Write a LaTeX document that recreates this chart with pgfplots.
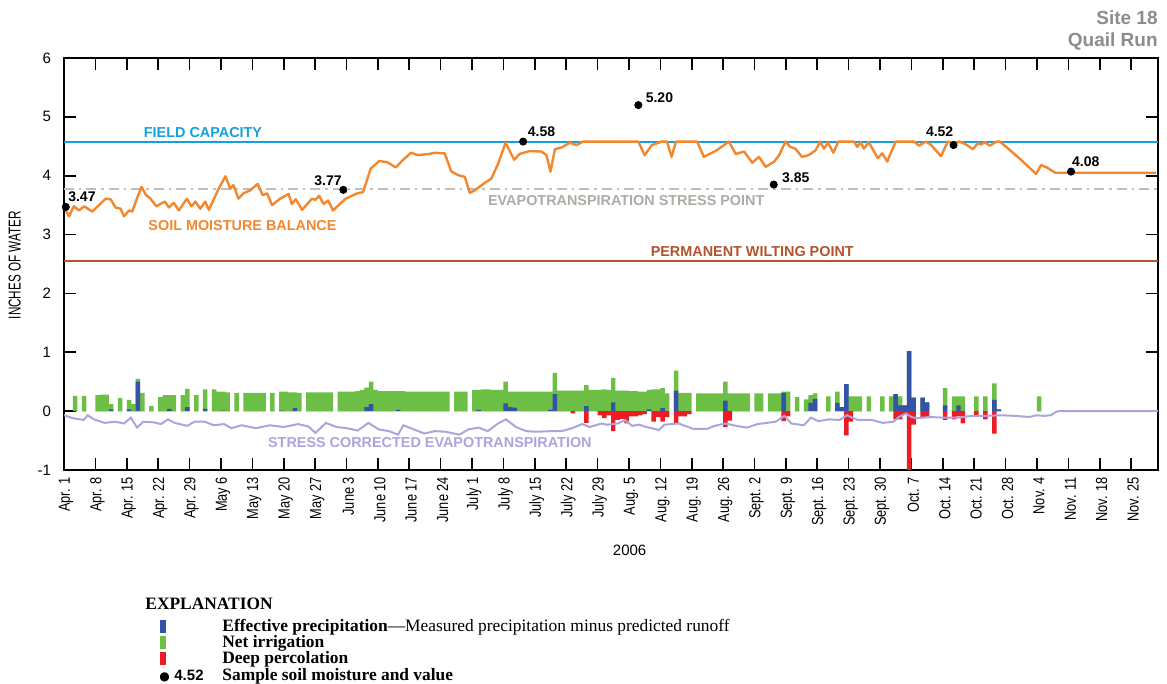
\documentclass[border=0pt]{standalone}
\usepackage{pgfplots}
\pgfplotsset{compat=1.18}
\usepackage{pgfplotstable}
\usepackage{fontspec}
\setmainfont{Liberation Sans}
\newfontfamily\condfont[FakeStretch=0.8]{Liberation Sans}
\newfontfamily\ylabfont[FakeStretch=0.68]{Liberation Sans}
\newfontfamily\seriffont{Liberation Serif}
\newfontfamily\symfont{DejaVu Sans}
\definecolor{fc}{RGB}{20,160,220}
\definecolor{sm}{RGB}{242,135,45}
\definecolor{etsp}{RGB}{195,190,185}
\definecolor{etsptxt}{RGB}{175,170,165}
\definecolor{pwp}{RGB}{180,82,45}
\definecolor{gbar}{RGB}{108,190,69}
\definecolor{bbar}{RGB}{52,82,166}
\definecolor{rbar}{RGB}{237,28,36}
\definecolor{etl}{RGB}{170,165,220}
\definecolor{ttl}{RGB}{140,140,140}

\pgfplotstableread{
d top blue red
2 0.26 0 0
4 0.26 0 0
7 0.27 0 0
8 0.28 0 0
9 0.28 0 0
10 0.12 0.03 0
12 0.22 0 0
14 0.19 0.03 0
15 0.12 0 0
16 0.55 0.50 0
17 0.31 0 0
19 0.09 0 0
21 0.24 0 0
22 0.27 0 0
23 0.27 0.04 0
24 0.27 0 0
26 0.27 0 0
27 0.38 0.07 0
29 0.27 0 0
31 0.37 0.04 0
33 0.37 0 0
34 0.33 0 0
35 0.33 0.01 0
36 0.32 0 0
38 0.31 0 0
40 0.31 0 0
41 0.31 0 0
42 0.31 0 0
43 0.31 0 0
44 0.31 0 0
46 0.31 0 0
48 0.33 0.01 0
49 0.33 0 0
50 0.32 0 0
51 0.32 0.05 0
52 0.31 0 0
54 0.32 0 0
55 0.32 0 0
56 0.32 0 0
57 0.32 0 0
58 0.32 0 0
59 0.32 0 0
61 0.33 0 0
62 0.33 0 0
63 0.33 0 0
64 0.33 0 0
65 0.34 0 0
66 0.36 0 0
67 0.40 0.07 0
68 0.50 0.12 0
69 0.36 0 0
70 0.34 0 0
71 0.34 0 0
72 0.34 0 0
73 0.34 0 0
74 0.34 0.02 0
75 0.34 0 0
76 0.33 0 0
77 0.33 0 0
78 0.33 0 0
79 0.33 0 0
80 0.33 0 0
81 0.33 0 0
82 0.33 0 0
83 0.33 0 0
84 0.33 0 0
85 0.33 0 0
87 0.33 0 0
88 0.33 0 0
89 0.33 0 0
91 0.36 0 0
92 0.36 0.02 0
93 0.37 0 0
94 0.37 0 0
95 0.36 0 0
96 0.36 0 0
97 0.36 0 0
98 0.50 0.13 0
99 0.33 0.07 0
100 0.33 0.06 0
101 0.33 0 0
102 0.33 0 0
103 0.33 0 0
104 0.33 0 0
105 0.33 0 0
106 0.33 0 0
107 0.33 0 0
108 0.33 0.02 0
109 0.65 0.29 0
110 0.35 0 0
111 0.35 0 0
112 0.35 0 0
113 0.35 0 -0.04
114 0.35 0 0
115 0.35 0 0
116 0.44 0.085 -0.20
117 0.36 0 0
118 0.36 0 0
119 0.36 0 -0.07
120 0.37 0 -0.12
121 0.36 0 -0.07
122 0.56 0.15 -0.34
123 0.35 0 -0.15
124 0.35 0 -0.13
125 0.35 0 -0.21
126 0.34 0 -0.09
127 0.34 0 -0.09
128 0.33 0 -0.07
129 0.33 0 -0.05
130 0.36 0.03 0
131 0.37 0 -0.18
132 0.37 0 -0.10
133 0.39 0.05 -0.18
134 0.30 0 -0.10
136 0.69 0.35 -0.21
137 0.31 0 -0.09
138 0.31 0 -0.09
139 0.31 0 -0.05
141 0.30 0 0
142 0.30 0 0
143 0.30 0 0
144 0.30 0 0
145 0.30 0 0
146 0.30 0 0
147 0.50 0.18 -0.27
148 0.30 0 -0.16
149 0.30 0 0
150 0.30 0 0
151 0.30 0 0
152 0.30 0 0
154 0.30 0 0
155 0.30 0 0
157 0.30 0 0
158 0.30 0 0
159 0.30 0 0
160 0.33 0.31 -0.17
161 0.33 0 -0.09
163 0.24 0 0
165 0.20 0 0
166 0.27 0.14 0
167 0.30 0.21 0
170 0.25 0 0
172 0.33 0.14 0
173 0.07 0.07 0
174 0.46 0.46 -0.41
175 0.25 0 -0.18
176 0.25 0 0
177 0.25 0 0
179 0.25 0 0
182 0.25 0 0
184 0.25 0 0
185 0.29 0.29 -0.14
186 0.25 0.10 -0.14
187 0.10 0.10 -0.05
188 1.02 1.02 -1.10
189 0.23 0.23 -0.23
191 0.23 0.23 -0.12
192 0.15 0.15 -0.12
196 0.39 0.10 -0.15
198 0.25 0 -0.14
199 0.25 0.10 -0.09
200 0.25 0 -0.21
203 0.25 0 -0.08
205 0.25 0 -0.14
207 0.47 0.19 -0.38
208 0.03 0.03 0
217 0.25 0 0
}\bars

\begin{document}
\begin{tikzpicture}
\path[use as bounding box] (0,0) rectangle (583.5pt,342pt);
\begin{axis}[
  at={(32pt,107pt)}, anchor=south west,
  scale only axis, width=547pt, height=206pt,
  xmin=0, xmax=244, ymin=-1, ymax=6,
  xtick={0,7,...,238},
  xticklabels={Apr. 1,Apr. 8,Apr. 15,Apr. 22,Apr. 29,May 6,May 13,May 20,May 27,June 3,June 10,June 17,June 24,July 1,July 8,July 15,July 22,July 29,Aug. 5,Aug. 12,Aug. 19,Aug. 26,Sept. 2,Sept. 9,Sept. 16,Sept. 23,Sept. 30,Oct. 7,Oct. 14,Oct. 21,Oct. 28,Nov. 4,Nov. 11,Nov. 18,Nov. 25},
  ytick={-1,0,1,2,3,4,5,6},
  yticklabels={-1,0,1,2,3,4,5,6},
  tick align=inside, major tick length=6pt,
  axis line style={line width=0.9pt},
  every tick/.style={black, line width=0.8pt},
  xticklabel style={rotate=90, anchor=east, font=\condfont\fontsize{8}{9}\selectfont, yshift=-1pt},
  yticklabel style={font=\fontsize{7.5}{8}\selectfont, xshift=-3pt},
  ylabel={INCHES OF WATER},
  ylabel style={at={(axis description cs:-0.045,0.497)}, anchor=center, font=\ylabfont\fontsize{8.6}{10}\selectfont},
  xlabel={2006},
  xlabel style={at={(axis description cs:0.517,-0.194)}, anchor=center, font=\fontsize{7.5}{8}\selectfont},
  clip=true,
]
% bars
\addplot[ybar, bar width=1, bar shift=0pt, fill=gbar, draw=none] table[x expr=\thisrow{d}+0.5, y=top] {\bars};
\addplot[ybar, bar width=1, bar shift=0pt, fill=bbar, draw=none] table[x expr=\thisrow{d}+0.5, y=blue] {\bars};
\addplot[ybar, bar width=1, bar shift=0pt, fill=rbar, draw=none] table[x expr=\thisrow{d}+0.5, y=red] {\bars};
% reference lines
\addplot[fc, line width=1pt] coordinates {(0,4.58) (244,4.58)};
\addplot[etsp, line width=0.8pt, dash pattern=on 5pt off 2.5pt on 1.2pt off 2.5pt] coordinates {(0,3.77) (244,3.77)};
\addplot[pwp, line width=1pt] coordinates {(0,2.55) (244,2.55)};
% stress corrected ET
\addplot[etl, line width=1pt] coordinates {
(0,-0.07) (2.0,-0.12) (4.4,-0.15) (5.3,-0.07) (6.7,-0.14) (9.1,-0.20) (11.4,-0.18) (13.4,-0.21) (14.9,-0.11) (16.3,-0.28) (17.7,-0.18) (20.0,-0.19) (21.6,-0.22) (23.2,-0.14) (24.7,-0.20) (27.5,-0.25) (29.1,-0.18) (31.4,-0.18) (33.4,-0.24) (35.7,-0.22) (37.3,-0.29) (39.6,-0.24) (42.8,-0.29) (45.9,-0.24) (49.0,-0.27) (52.2,-0.22) (54.5,-0.26) (56.1,-0.37) (58.4,-0.20) (60.8,-0.27) (63.1,-0.29) (65.5,-0.33) (67.9,-0.20) (70.2,-0.31) (72.5,-0.34) (74.5,-0.40) (75.7,-0.24) (78.0,-0.31) (80.4,-0.38) (82.7,-0.34) (85.1,-0.35) (88.2,-0.40) (90.2,-0.31) (92.5,-0.28) (94.5,-0.34) (96.8,-0.21) (98.6,-0.14) (100.8,-0.27) (103.1,-0.34) (105.5,-0.35) (108.6,-0.34) (111.0,-0.34) (113.3,-0.29) (115.6,-0.22) (117.2,-0.27) (119.9,-0.21)
(121.1,-0.23) (123.5,-0.21) (125.1,-0.15) (126.7,-0.25) (128.3,-0.23) (129.9,-0.27) (132.7,-0.32) (133.9,-0.23) (137.1,-0.21) (140.3,-0.30) (143.5,-0.30) (145.1,-0.25) (147.5,-0.21) (149.9,-0.25) (152.3,-0.28) (154.7,-0.22) (158.7,-0.18) (160.7,-0.08) (162.2,-0.21) (165.0,-0.24) (166.6,-0.11) (168.2,-0.17) (170.6,-0.14) (173.0,-0.15) (174.6,-0.07) (177.0,-0.15) (180.2,-0.15) (182.6,-0.20) (185.0,-0.18) (186.2,-0.10) (187.8,-0.04) (189.0,-0.10) (190.2,-0.12) (193.0,-0.10) (196.2,-0.11) (199.4,-0.11) (202.6,-0.08) (205.7,-0.08) (208.9,-0.07) (212.1,-0.08) (215.3,-0.10) (216.9,-0.07) (218.5,-0.08) (220.1,-0.07) (221.3,-0.01) (222.1,0) (244,0)
};
% soil moisture balance
\addplot[sm, line width=1.2pt, line join=round] coordinates {
(0,3.47) (1.1,3.31) (2.2,3.48) (3.3,3.41) (4.5,3.48) (6.3,3.39) (9.3,3.61) (10.4,3.60) (11.5,3.46) (12.6,3.44) (13.4,3.31) (14.5,3.41) (15.2,3.39) (16.4,3.64) (17.3,3.81) (18.3,3.67) (19.3,3.61) (20.6,3.48) (21.5,3.52) (22.5,3.56) (23.4,3.46) (24.5,3.54) (25.6,3.41) (27.4,3.61) (28.4,3.48) (29.3,3.56) (30.4,3.44) (31.5,3.56) (32.3,3.42) (34.5,3.78) (36,3.99) (37.1,3.78) (37.8,3.84) (38.9,3.61) (40,3.70) (41.5,3.75) (43.2,3.86) (44.3,3.67) (45.3,3.70) (46.4,3.50) (48.2,3.61) (50.1,3.69) (50.8,3.52) (51.7,3.60) (53.1,3.42) (55.3,3.61) (56.1,3.59) (56.9,3.66) (57.9,3.52) (58.9,3.58) (60,3.41) (62.8,3.61) (65.4,3.70) (66.7,3.72) (68.4,4.12) (70.3,4.25) (72.1,4.23) (74,4.14) (75.5,4.26) (77.4,4.39) (78.9,4.35) (81.5,4.37) (82.7,4.39) (84.9,4.38) (86.4,4.07) (87.9,4.01) (89.4,3.98) (90.5,3.71) (91.6,3.75) (93.5,3.86) (95.3,3.95) (96.8,4.20) (98.5,4.56) (100.4,4.27) (101.6,4.37) (103.9,4.42) (106.5,4.41) (107.6,4.35) (108.5,4.07) (109.5,4.45) (111,4.48) (112.8,4.56) (114.3,4.52) (115.8,4.58) (128.1,4.58) (129.5,4.35) (131.1,4.52) (133.3,4.58) (134.5,4.58) (135.5,4.32) (136.5,4.58) (141.2,4.58) (142.7,4.32) (145.3,4.42) (147.2,4.52) (148.3,4.58) (149.8,4.37) (151.7,4.41) (153.5,4.22) (155,4.32) (156.5,4.15) (158.4,4.24) (159.5,4.35) (160.9,4.58) (162,4.49) (163.1,4.46) (164.6,4.32) (166.1,4.35) (167.6,4.43) (168.7,4.58) (169.5,4.46) (170.4,4.56) (171.6,4.39) (172.7,4.58) (176.2,4.58) (176.9,4.49) (177.7,4.57) (178.4,4.46) (179.5,4.57) (181.5,4.30) (182.5,4.38) (183.6,4.24) (185.5,4.58) (189.6,4.58) (190.7,4.51) (192.2,4.58) (193.3,4.53) (195.6,4.33) (197.1,4.58) (198.6,4.55) (199.7,4.58) (201.2,4.53) (202.7,4.45) (203.8,4.55) (204.6,4.53) (205.3,4.57) (206.5,4.51) (208,4.58) (208.7,4.58) (210.6,4.46) (213.6,4.26) (216.8,4.03) (217.9,4.18) (219.2,4.14) (221.1,4.05) (243.6,4.05)
};
% sample soil moisture
\addplot[only marks, mark=*, mark size=1.8pt, black] coordinates {
(0.4,3.47) (62.3,3.76) (102.4,4.58) (128.1,5.20) (158.3,3.85) (198.4,4.52) (224.6,4.07)
};
% labels
\begin{scope}[every node/.style={font=\bfseries\fontsize{7}{8}\selectfont, inner sep=0pt}]
\node at (axis cs:4.0,3.64) {3.47};
\node at (axis cs:58.9,3.92) {3.77};
\node at (axis cs:106.5,4.74) {4.58};
\node at (axis cs:132.8,5.33) {5.20};
\node at (axis cs:163.2,3.96) {3.85};
\node at (axis cs:195.3,4.75) {4.52};
\node at (axis cs:227.9,4.23) {4.08};
\end{scope}
\begin{scope}[every node/.style={font=\bfseries\fontsize{7.2}{8}\selectfont, inner sep=0pt}]
\node[text=fc] at (axis cs:31,4.74) {FIELD CAPACITY};
\node[text=sm] at (axis cs:39.8,3.16) {SOIL MOISTURE BALANCE};
\node[text=etsptxt] at (axis cs:125.4,3.57) {EVAPOTRANSPIRATION STRESS POINT};
\node[text=pwp] at (axis cs:153.5,2.72) {PERMANENT WILTING POINT};
\node[text=etl] at (axis cs:81.6,-0.54) {STRESS CORRECTED EVAPOTRANSPIRATION};
\end{scope}
\end{axis}
% title
\node[anchor=east, text=ttl, font=\bfseries\fontsize{9.5}{10}\selectfont, inner sep=0pt] at (579pt,333pt) {Site 18};
\node[anchor=east, text=ttl, font=\bfseries\fontsize{9.5}{10}\selectfont, inner sep=0pt] at (579pt,321.5pt) {Quail Run};
% explanation
\begin{scope}[every node/.style={anchor=base west, inner sep=0pt, font=\seriffont\fontsize{8.7}{9}\selectfont}]
\node at (72.5pt,37pt) {\bfseries EXPLANATION};
\node at (80pt,26pt) {\textcolor{bbar}{\rule[-0.5pt]{2.8pt}{6.5pt}}};
\node at (80pt,18pt) {\textcolor{gbar}{\rule[-0.5pt]{2.8pt}{6.5pt}}};
\node at (80pt,10pt) {\textcolor{rbar}{\rule[-0.5pt]{2.8pt}{6.5pt}}};
\node at (79.5pt,1.9pt) {\symfont\fontsize{6}{7}\selectfont ●};
\node at (87pt,1.9pt) {\rmfamily\bfseries\fontsize{7.5}{8}\selectfont 4.52};
\node at (111pt,26pt) {\bfseries Effective precipitation\mdseries —Measured precipitation minus predicted runoff};
\node at (111pt,18pt) {\bfseries Net irrigation};
\node at (111pt,10pt) {\bfseries Deep percolation};
\node at (111pt,1.9pt) {\bfseries Sample soil moisture and value};
\end{scope}
\end{tikzpicture}
\end{document}
